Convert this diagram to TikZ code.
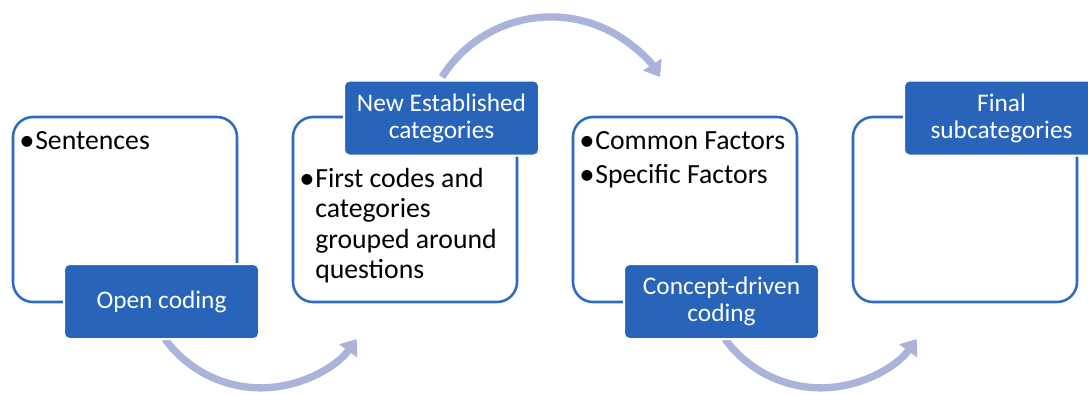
\documentclass[tikz,border=0pt]{standalone}
\usepackage{fontspec}
\setmainfont{Carlito}
\usetikzlibrary{arrows.meta}
\definecolor{outl}{RGB}{46,106,194}
\definecolor{bfill}{RGB}{40,100,186}
\definecolor{arrc}{RGB}{170,180,218}
\tikzset{
  frame/.style={draw=outl, line width=1.9pt, rounded corners=15pt, fill=white,
    minimum width=168pt, minimum height=138.75pt, inner sep=0pt},
  label/.style={draw=white, line width=1.5pt, fill=bfill, rounded corners=4pt,
    minimum width=146.25pt, minimum height=56.25pt, inner sep=0pt, text=white,
    align=center, font=\fontsize{19}{20.3}\selectfont},
  txt/.style={anchor=base west, inner sep=0pt, font=\fontsize{20.8}{22.5}\selectfont},
  bul/.style={anchor=base west, inner sep=0pt, font=\fontsize{23}{23}\selectfont},
  flow/.style={draw=arrc, line width=5.5pt, -{Triangle[width=16pt,length=11pt]}}
}
\newcommand{\bulmark}{\raisebox{-0.8pt}{•}}
\begin{document}
\begin{tikzpicture}[x=0.75pt,y=-0.75pt]
\useasboundingbox (0,0) rectangle (1088,394);
\clip (0,0) rectangle (1088,394);
% arrows
\coordinate (a1s) at (165,339);
\coordinate (a2s) at (442,77);
\coordinate (a3s) at (725,339);
\draw[flow] (a1s) arc[start angle=144, end angle=36, radius=118.5];
\draw[flow] (a2s) arc[start angle=212.3, end angle=327.7, radius=129];
\draw[flow] (a3s) arc[start angle=144, end angle=36, radius=118.5];
% frames
\node[frame] (f1) at (125,209.5) {};
\node[frame] (f2) at (405,209.5) {};
\node[frame] (f3) at (685,209.5) {};
\node[frame] (f4) at (965,209.5) {};
% labels
\node[label] (l1) at (161.5,301.5) {Open coding};
\node[label] (l2) at (441.5,118) {New Established\\categories};
\node[label] (l3) at (721.5,301.5) {Concept-driven\\coding};
\node[label] (l4) at (1001.5,118) {Final\\subcategories};
% texts
\node[bul] (t1b) at (19,149) {\bulmark};
\node[txt] (t1) at (35,149) {Sentences};
\node[bul] (t2b) at (299,187) {\bulmark};
\node[txt] (t2a) at (315,187) {First codes and};
\node[txt] (t2c) at (315,217) {categories};
\node[txt] (t2d) at (315,248) {grouped around};
\node[txt] (t2e) at (315,278) {questions};
\node[bul] (t3b1) at (579,149) {\bulmark};
\node[txt] (t3a) at (595,149) {Common Factors};
\node[bul] (t3b2) at (579,183) {\bulmark};
\node[txt] (t3c) at (595,183) {Specific Factors};
\end{tikzpicture}
\end{document}
